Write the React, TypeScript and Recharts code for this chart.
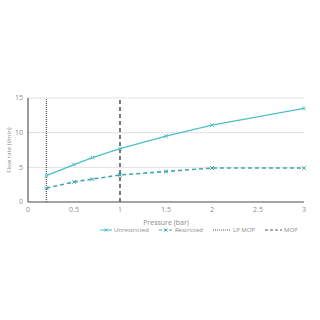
import React from 'react';
import { LineChart, Line, XAxis, YAxis, CartesianGrid, ReferenceLine, Label } from 'recharts';

const pressure = [0.2, 0.5, 0.7, 1, 1.5, 2, 3];
const unrestricted = [3.8, 5.4, 6.4, 7.7, 9.5, 11.1, 13.5];
const restricted = [2.0, 2.9, 3.3, 3.9, 4.4, 4.9, 4.9];
const xTicks = [0, 0.5, 1, 1.5, 2, 2.5, 3];
const yTicks = [0, 5, 10, 15];
const lpMop = 0.2;
const mop = 1;

const data = pressure.map((p, i) => ({ p, u: unrestricted[i], r: restricted[i] }));

const C1 = '#4DBFC6';
const C2 = '#3FA6AC';
const GREY = '#595959';
const TXT = '#8C8C8C';
const FONT = '"Open Sans", "Liberation Sans", sans-serif';

const XDot = (color: string) => (props: any) => {
  const { cx, cy } = props;
  if (cx == null || cy == null) return null;
  const s = 1.8;
  return (
    <g>
      <line x1={cx - s} y1={cy - s} x2={cx + s} y2={cy + s} stroke={color} strokeWidth={1} />
      <line x1={cx - s} y1={cy + s} x2={cx + s} y2={cy - s} stroke={color} strokeWidth={1} />
    </g>
  );
};

const legendItems = [
  { label: 'Unrestricted', color: C1, dash: undefined as string | undefined, marker: true, w: 12 },
  { label: 'Restricted', color: C2, dash: '3 2', marker: true, w: 14 },
  { label: 'LP MOP', color: GREY, dash: '1 1', marker: false, w: 18 },
  { label: 'MOP', color: GREY, dash: '3 2', marker: false, w: 17 },
];

export default function App() {
  return (
    <div style={{ position: 'absolute', left: 0, top: 0, width: 320, height: 320, background: '#fff' }}>
      <LineChart width={320} height={320} data={data} margin={{ top: 98, right: 16, left: 8, bottom: 88 }}>
        <CartesianGrid horizontal vertical={false} stroke="#D9D9D9" strokeWidth={0.8} />
        <XAxis
          dataKey="p"
          type="number"
          domain={[0, 3]}
          ticks={xTicks}
          tickSize={0}
          tickMargin={5}
          height={30}
          tick={{ fontSize: 7, fill: TXT, fontFamily: FONT }}
          axisLine={{ stroke: GREY, strokeWidth: 1.2 }}
          tickLine={false}
        >
          <Label value="Pressure (bar)" position="insideBottom" offset={7} style={{ fontSize: 7, fill: TXT, fontFamily: FONT }} />
        </XAxis>
        <YAxis
          type="number"
          domain={[0, 15]}
          ticks={yTicks}
          tickSize={0}
          tickMargin={5}
          width={20}
          tick={{ fontSize: 7, fill: TXT, fontFamily: FONT }}
          axisLine={{ stroke: GREY, strokeWidth: 1.2 }}
          tickLine={false}
        >
          <Label value="Flow rate (l/min)" angle={-90} position="insideLeft" offset={1} style={{ fontSize: 6, fill: TXT, fontFamily: FONT, textAnchor: 'middle' }} />
        </YAxis>
        <ReferenceLine x={lpMop} stroke={GREY} strokeWidth={1.3} strokeDasharray="1 1" />
        <ReferenceLine x={mop} stroke={GREY} strokeWidth={1.6} strokeDasharray="4 3" />
        <Line dataKey="u" stroke={C1} strokeWidth={1.3} dot={XDot(C1)} isAnimationActive={false} />
        <Line dataKey="r" stroke={C2} strokeWidth={1.6} strokeDasharray="4 3" dot={XDot(C2)} isAnimationActive={false} />
      </LineChart>
      <div style={{ position: 'absolute', left: 100, top: 226, display: 'flex', alignItems: 'center', fontFamily: FONT, fontSize: 6, color: TXT, whiteSpace: 'nowrap' }}>
        {legendItems.map((it) => (
          <div key={it.label} style={{ display: 'flex', alignItems: 'center', marginRight: 10 }}>
            <svg width={it.w} height={6} style={{ marginRight: 2 }}>
              <line x1={0} y1={3} x2={it.w} y2={3} stroke={it.color} strokeWidth={1} strokeDasharray={it.dash} />
              {it.marker && (
                <g>
                  <line x1={it.w / 2 - 1.5} y1={1.5} x2={it.w / 2 + 1.5} y2={4.5} stroke={it.color} strokeWidth={1} />
                  <line x1={it.w / 2 - 1.5} y1={4.5} x2={it.w / 2 + 1.5} y2={1.5} stroke={it.color} strokeWidth={1} />
                </g>
              )}
            </svg>
            <span>{it.label}</span>
          </div>
        ))}
      </div>
    </div>
  );
}
